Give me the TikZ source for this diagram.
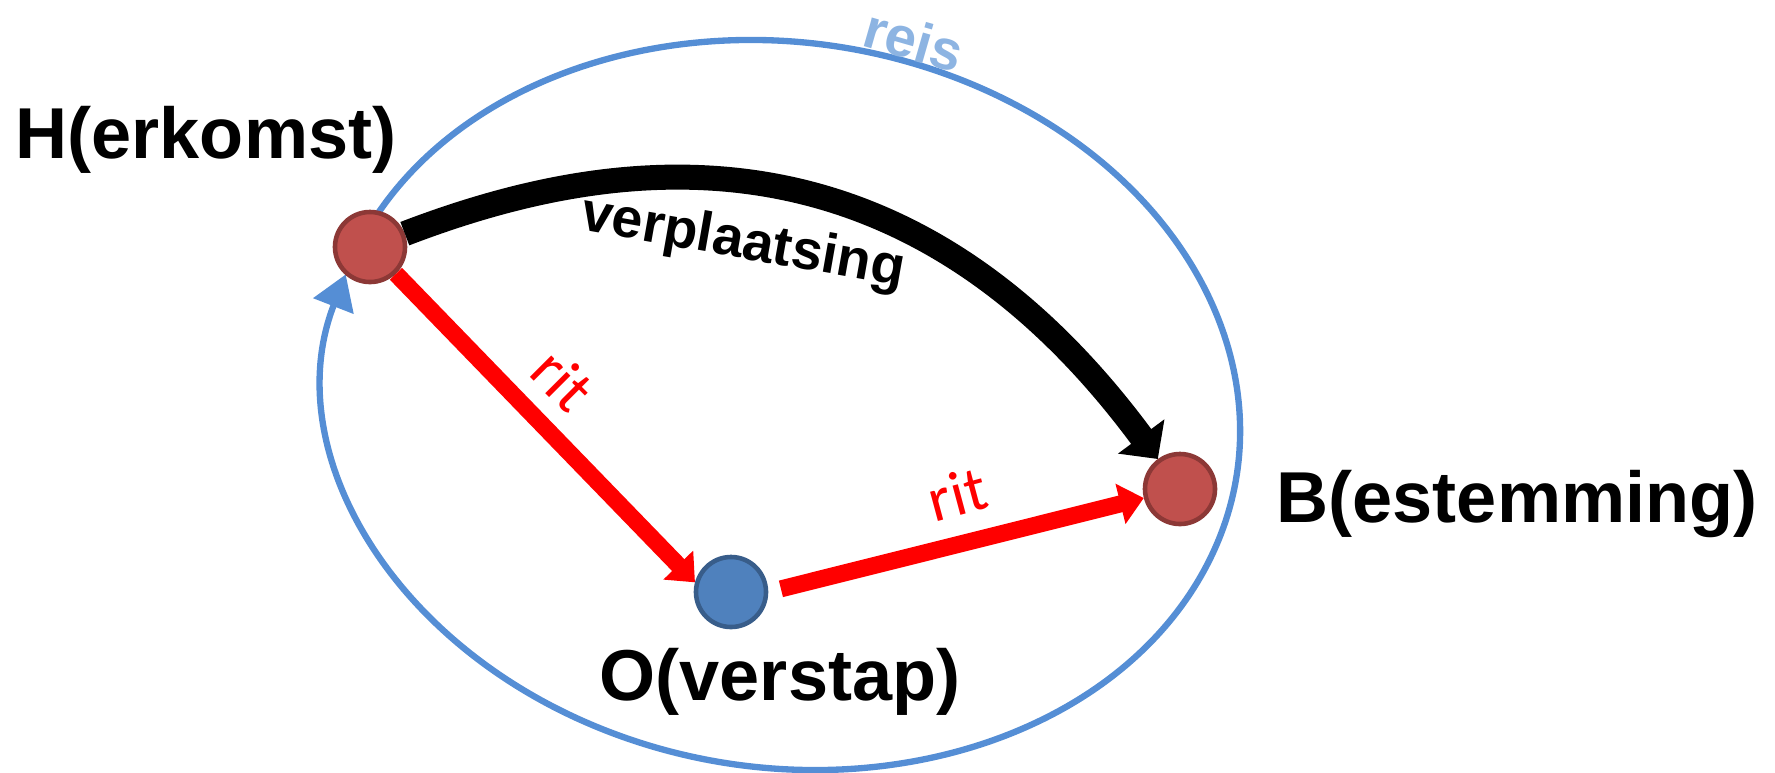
\documentclass[tikz,border=0pt]{standalone}
\usepackage{fontspec}
\setmainfont{Liberation Sans}
\newfontfamily\ritfont{Carlito}
\usetikzlibrary{arrows.meta}
\definecolor{stopred}{RGB}{192,80,77}
\definecolor{stopredline}{RGB}{140,56,54}
\definecolor{stopblue}{RGB}{79,129,189}
\definecolor{stopblueline}{RGB}{56,93,138}
\definecolor{reisblue}{RGB}{85,142,213}
\definecolor{reislabel}{RGB}{141,180,226}

\begin{document}
\begin{tikzpicture}[x=0.01cm, y=0.01cm,
  stop/.style     = {circle, draw=stopredline, fill=stopred, line width=1.3pt,
                     minimum size=0.70cm, inner sep=0pt},
  overstap/.style = {stop, draw=stopblueline, fill=stopblue},
  place/.style    = {font=\fontsize{20.5}{24}\selectfont\bfseries, inner sep=0pt},
  rit/.style      = {draw=red, line width=0.17cm,
                     -{Triangle[length=0.24cm, width=0.40cm]}},
  ritlabel/.style = {font=\fontsize{18}{20}\selectfont\ritfont, text=red, inner sep=1pt},
  verpl/.style    = {draw=black, line width=0.25cm,
                     -{Triangle[length=0.28cm, width=0.56cm]}},
  reis/.style     = {draw=reisblue, line width=1.8pt,
                     -{Triangle[length=0.34cm, width=0.42cm]}},
]
\useasboundingbox (0,0) rectangle (1775,-772);

% ========== Reis (loop round the trip) ==========
\draw[reis, shift={(783,-405)}, rotate=-8.7] (164:459 and 362.5)
  arc[start angle=164, end angle=-190, x radius=459, y radius=362.5];
\node[font=\fontsize{16}{18}\selectfont\bfseries, text=reislabel, rotate=-16,
      inner sep=0pt] (reistxt) at (914,-40) {reis};

% ========== Stops ==========
\node[stop]     (H) at (370,-247) {};
\node[stop]     (B) at (1180,-489) {};
\node[overstap] (O) at (731,-592) {};

\node[place, anchor=base west] (Hlabel) at (15,-158)  {H(erkomst)};
\node[place, anchor=base west] (Blabel) at (1276,-522) {B(estemming)};
\node[place, anchor=base]      (Olabel) at (780,-700) {O(verstap)};

% ========== Verplaatsing ==========
\draw[verpl] (H) .. controls (610,-155) and (900,-110) .. (B);
\node[font=\fontsize{15.8}{18}\selectfont\bfseries, rotate=-10, inner sep=0pt]
  (verpltxt) at (743,-244) {verplaatsing};

% ========== Ritten ==========
\draw[rit] (H) -- (O.165);
\draw[rit, shorten <=0.13cm] (O.0) -- (B.194);
\node[ritlabel, rotate=-45] (rit1) at (563,-380) {rit};
\node[ritlabel, rotate=15]  (rit2) at (957,-494) {rit};

\end{tikzpicture}
\end{document}
